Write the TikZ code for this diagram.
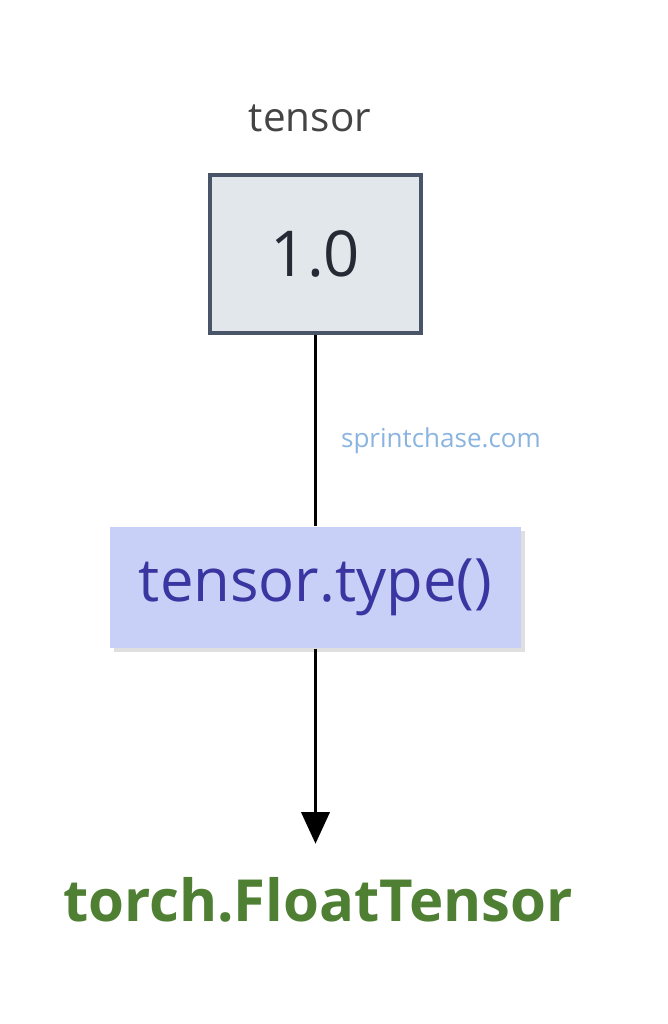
\documentclass[tikz,border=0pt]{standalone}
\usepackage{fontspec}
\setmainfont{Open Sans}
\usetikzlibrary{arrows.meta,shadows}
\definecolor{boxfill}{HTML}{E2E7EC}
\definecolor{boxdraw}{HTML}{4A5468}
\definecolor{opfill}{HTML}{C8D0F8}
\definecolor{optext}{HTML}{3A35A0}
\definecolor{wm}{HTML}{8AB4E0}
\definecolor{res}{HTML}{4E7F32}
\definecolor{lbl}{HTML}{444444}
\tikzset{
  valbox/.style={draw=boxdraw,line width=1.2pt,fill=boxfill,minimum width=211\pxu,minimum height=158\pxu,inner sep=0pt,font=\fontsize{18}{20}\selectfont,text=boxdraw!50!black},
  opbox/.style={fill=opfill,minimum width=411\pxu,minimum height=121\pxu,inner sep=0pt,font=\fontsize{17}{20}\selectfont,text=optext,drop shadow={shadow xshift=1pt,shadow yshift=-1pt,opacity=0.25}},
  conn/.style={draw=black,line width=1pt}
}
\newlength{\pxu}\setlength{\pxu}{0.01cm}
\begin{document}
\begin{tikzpicture}[x=0.01cm,y=-0.01cm]
\useasboundingbox (0,0) rectangle (668,1024);
\node[font=\fontsize{11.5}{14}\selectfont,text=lbl] (lab) at (310,118) {tensor};
\node[valbox] (val) at (315.5,254) {1.0};
\node[opbox] (op) at (315.5,587.5) {tensor.type()};
\node[font=\fontsize{7.4}{9}\selectfont,text=wm] (wmk) at (441,441) {sprintchase.com};
\node[font=\fontsize{16.5}{20}\selectfont\bfseries,text=res] (out) at (318,900) {torch.FloatTensor};
\draw[conn] (val.south) -- (op.north);
\draw[conn,-{Triangle[length=9pt,width=8pt]}] (op.south) -- ++(0,195) coordinate (tip);
\end{tikzpicture}
\end{document}
